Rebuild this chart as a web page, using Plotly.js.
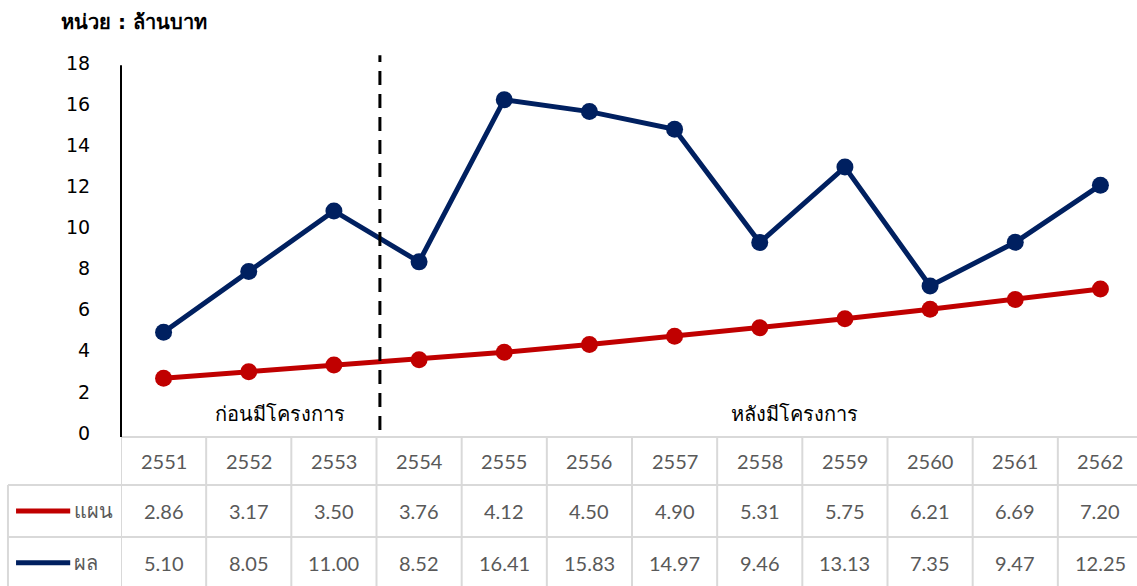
<!DOCTYPE html>
<html>
<head>
<meta charset="utf-8">
<script src="https://cdn.plot.ly/plotly-3.0.1.min.js"></script>
<style>
html,body{margin:0;padding:0;overflow:hidden;background:#fff;}
#chart{width:1143px;height:586px;}
</style>
</head>
<body>
<div id="chart"></div>
<script>
const years = ['2551','2552','2553','2554','2555','2556','2557','2558','2559','2560','2561','2562'];
const planValues = [2.86,3.17,3.50,3.76,4.12,4.50,4.90,5.31,5.75,6.21,6.69,7.20];
const resultValues = [5.10,8.05,11.00,8.52,16.41,15.83,14.97,9.46,13.13,7.35,9.47,12.25];
const seriesNames = ['แผน','ผล'];
const yTicks = [0,2,4,6,8,10,12,14,16,18];
const unitLabel = 'หน่วย : ล้านบาท';
const beforeLabel = 'ก่อนมีโครงการ';
const afterLabel = 'หลังมีโครงการ';

const RED = '#C00000', NAVY = '#002060', GRID = '#d9d9d9', TXT = '#595959';
const thaiFont = 'Tahoma, "DejaVu Sans", "Noto Sans", sans-serif';
const numFont = 'Lato, "Noto Sans", sans-serif';

const idx = years.map((_, i) => i);
const traces = [
  {x: idx, y: planValues, name: seriesNames[0], mode: 'lines+markers',
   line: {color: RED, width: 5}, marker: {color: RED, size: 17}, cliponaxis: false},
  {x: idx, y: resultValues, name: seriesNames[1], mode: 'lines+markers',
   line: {color: NAVY, width: 5}, marker: {color: NAVY, size: 17}, cliponaxis: false}
];

// table geometry in paper coords (plot area: x 121..1143, y 67..437)
const rowTop = 0, row1 = -0.1297, row2 = -0.2703, rowBot = -0.41;
const legLeft = -0.1106;
const shapes = [];
const annotations = [];
const lineStyle = {color: GRID, width: 2};
shapes.push({type:'line', xref:'paper', yref:'paper', x0:0, x1:1, y0:rowTop, y1:rowTop, line:lineStyle});
[row1, row2, rowBot].forEach(y => shapes.push({type:'line', xref:'paper', yref:'paper', x0:legLeft, x1:1, y0:y, y1:y, line:lineStyle}));
shapes.push({type:'line', xref:'paper', yref:'paper', x0:legLeft, x1:legLeft, y0:row1, y1:rowBot, line:lineStyle});
for (let i = 0; i <= years.length; i++) {
  shapes.push({type:'line', xref:'x', yref:'paper', x0:i-0.5, x1:i-0.5, y0:rowTop, y1:rowBot, line:lineStyle});
}
// divider dashed line between before/after
shapes.push({type:'line', xref:'x', yref:'paper', x0:2.54, x1:2.54, y0:0.019, y1:1.032,
  line:{color:'#000', width:3, dash:'14px,9px'}});
// y axis line
shapes.push({type:'line', xref:'paper', yref:'paper', x0:0, x1:0, y0:0, y1:1.005, line:{color:'#000', width:2}});
// legend samples
[[row1, row2, RED, seriesNames[0]], [row2, rowBot, NAVY, seriesNames[1]]].forEach(([a, b, c, n]) => {
  const yc = (a + b) / 2;
  shapes.push({type:'line', xref:'paper', yref:'paper', x0:-0.1027, x1:-0.0497, y0:yc, y1:yc, line:{color:c, width:5}});
  annotations.push({xref:'paper', yref:'paper', x:-0.0477, y:yc, xanchor:'left', yanchor:'middle', showarrow:false,
    text:n, font:{family:thaiFont, size:20, color:TXT}});
});
// table texts
years.forEach((yr, i) => {
  annotations.push({xref:'x', yref:'paper', x:i, y:(rowTop+row1)/2, showarrow:false, yanchor:'middle', text:yr, font:{family:numFont, size:20, color:TXT}});
  annotations.push({xref:'x', yref:'paper', x:i, y:(row1+row2)/2, showarrow:false, yanchor:'middle', text:planValues[i].toFixed(2), font:{family:numFont, size:20, color:TXT}});
  annotations.push({xref:'x', yref:'paper', x:i, y:(row2+rowBot)/2, showarrow:false, yanchor:'middle', text:resultValues[i].toFixed(2), font:{family:numFont, size:20, color:TXT}});
});
annotations.push({xref:'x', yref:'y', x:1.37, y:1.12, showarrow:false, text:beforeLabel, font:{family:thaiFont, size:20, color:'#000'}});
annotations.push({xref:'x', yref:'y', x:7.41, y:1.12, showarrow:false, text:afterLabel, font:{family:thaiFont, size:20, color:'#000'}});
annotations.push({xref:'paper', yref:'paper', x:-0.061, y:1.1216, xanchor:'left', yanchor:'middle', showarrow:false,
  text:'<b>'+unitLabel+'</b>', font:{family:thaiFont, size:20, color:'#000'}});

const layout = {
  width: 1143, height: 586,
  margin: {l:121, r:0, t:67, b:149},
  paper_bgcolor:'#fff', plot_bgcolor:'#fff',
  showlegend:false,
  xaxis: {range:[-0.5, 11.5], showticklabels:false, showgrid:false, zeroline:false, showline:false, fixedrange:true},
  yaxis: {range:[0, 18], tickvals:yTicks, ticktext:yTicks.map(String), showgrid:false, zeroline:false, showline:false,
    ticks:'outside', ticklen:26, tickcolor:'rgba(0,0,0,0)', ticklabelshift:-4, tickfont:{family:thaiFont, size:19, color:'#000'}},
  shapes: shapes,
  annotations: annotations
};
Plotly.newPlot('chart', traces, layout, {staticPlot:true, displayModeBar:false});
</script>
</body>
</html>
